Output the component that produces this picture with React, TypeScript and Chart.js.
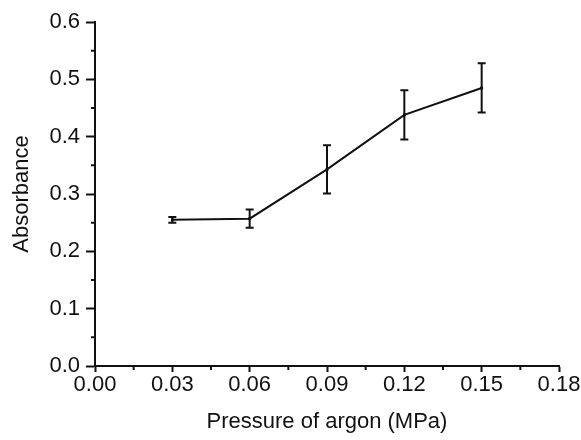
import React, { useEffect, useRef } from "react";
import { Chart, registerables } from "chart.js";

Chart.register(...registerables);

const pressure = [0.03, 0.06, 0.09, 0.12, 0.15];
const absorbance = [0.255, 0.257, 0.343, 0.438, 0.485];
const errors = [0.005, 0.016, 0.042, 0.043, 0.043];

const xTicks = [0, 0.03, 0.06, 0.09, 0.12, 0.15, 0.18];
const yTicks = [0, 0.1, 0.2, 0.3, 0.4, 0.5, 0.6];
const xMinor = [0.015, 0.045, 0.075, 0.105, 0.135, 0.165];
const yMinor = [0.05, 0.15, 0.25, 0.35, 0.45, 0.55];

const FONT = "'Liberation Sans', Arial, sans-serif";

const errorBarPlugin = {
  id: "errorBars",
  afterDatasetsDraw(chart: any) {
    const { ctx, scales } = chart;
    const xs = scales.x;
    const ys = scales.y;
    ctx.save();
    ctx.strokeStyle = "#111";
    ctx.lineWidth = 2;
    for (let i = 0; i < pressure.length; i++) {
      const px = xs.getPixelForValue(pressure[i]);
      const top = ys.getPixelForValue(absorbance[i] + errors[i]);
      const bot = ys.getPixelForValue(absorbance[i] - errors[i]);
      ctx.beginPath();
      ctx.moveTo(px, top);
      ctx.lineTo(px, bot);
      ctx.moveTo(px - 4, top);
      ctx.lineTo(px + 4, top);
      ctx.moveTo(px - 4, bot);
      ctx.lineTo(px + 4, bot);
      ctx.stroke();
    }
    ctx.restore();
  },
};

const minorTickPlugin = {
  id: "minorTicks",
  afterDraw(chart: any) {
    const { ctx, scales, chartArea } = chart;
    ctx.save();
    ctx.strokeStyle = "#111";
    ctx.lineWidth = 2;
    ctx.beginPath();
    for (const v of xMinor) {
      const px = scales.x.getPixelForValue(v);
      ctx.moveTo(px, chartArea.bottom);
      ctx.lineTo(px, chartArea.bottom + 4);
    }
    for (const v of yMinor) {
      const py = scales.y.getPixelForValue(v);
      ctx.moveTo(chartArea.left, py);
      ctx.lineTo(chartArea.left - 4, py);
    }
    ctx.stroke();
    ctx.restore();
  },
};

export default function App() {
  const ref = useRef<HTMLCanvasElement>(null);

  useEffect(() => {
    document.body.style.margin = "0";
    const canvas = ref.current;
    if (!canvas) return;
    const chart = new Chart(canvas, {
      type: "scatter",
      data: {
        datasets: [
          {
            data: pressure.map((p, i) => ({ x: p, y: absorbance[i] })),
            showLine: true,
            borderColor: "#111",
            backgroundColor: "#111",
            borderWidth: 2,
            pointStyle: "rect",
            pointRadius: 2,
            pointBorderWidth: 0,
          },
        ],
      },
      options: {
        animation: false,
        responsive: true,
        maintainAspectRatio: false,
        layout: { padding: { top: 22, right: 22, left: 0, bottom: 0 } },
        plugins: { legend: { display: false }, tooltip: { enabled: false } },
        scales: {
          x: {
            type: "linear",
            min: 0,
            max: 0.18,
            afterBuildTicks: (s: any) => {
              s.ticks = xTicks.map((v) => ({ value: v }));
            },
            afterFit: (s: any) => {
              s.height = 74;
            },
            ticks: {
              color: "#111",
              font: { family: FONT, size: 22 },
              padding: 0,
              maxRotation: 0,
              autoSkip: false,
              callback: (v: any) => Number(v).toFixed(2),
            },
            grid: {
              drawOnChartArea: false,
              drawTicks: true,
              tickLength: 6,
              tickColor: "#111",
              tickWidth: 2,
            },
            border: { display: true, color: "#111", width: 2 },
            title: {
              display: true,
              text: "Pressure of argon (MPa)",
              color: "#111",
              font: { family: FONT, size: 22 },
              padding: { top: 0, bottom: 5 },
            },
          },
          y: {
            type: "linear",
            min: 0,
            max: 0.6,
            afterBuildTicks: (s: any) => {
              s.ticks = yTicks.map((v) => ({ value: v }));
            },
            afterFit: (s: any) => {
              s.width = 95;
            },
            ticks: {
              color: "#111",
              font: { family: FONT, size: 22 },
              padding: 6,
              autoSkip: false,
              callback: (v: any) => Number(v).toFixed(1),
            },
            grid: {
              drawOnChartArea: false,
              drawTicks: true,
              tickLength: 9,
              tickColor: "#111",
              tickWidth: 2,
            },
            border: { display: true, color: "#111", width: 2 },
            title: {
              display: true,
              text: "Absorbance",
              color: "#111",
              font: { family: FONT, size: 22 },
              padding: { top: 9, bottom: 0 },
            },
          },
        },
      },
      plugins: [errorBarPlugin, minorTickPlugin],
    });
    return () => chart.destroy();
  }, []);

  return (
    <div style={{ width: 581, height: 440, position: "relative", background: "#fff" }}>
      <canvas ref={ref} />
    </div>
  );
}
